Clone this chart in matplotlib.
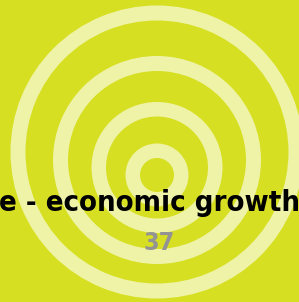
import matplotlib as mpl
mpl.use('Agg')
import matplotlib.pyplot as plt
from matplotlib.patches import Annulus

# ring geometry (pixels, y down)
ring_cx = [157.0, 157.0, 157.0, 157.0]
ring_cy = [175.0, 167.5, 160.0, 152.0]
ring_r_outer = [31.5, 65.5, 104.0, 146.5]
ring_width = [14.5, 14.5, 15.0, 15.0]

title_text = 'e - economic growth'
page_number = '37'

bg_color = '#d7df23'
ring_color = '#eff3a8'

W, H = 299, 302
fig = plt.figure(figsize=(W/100.0, H/100.0), dpi=100)
fig.patch.set_facecolor(bg_color)
ax = fig.add_axes([0, 0, 1, 1])
ax.set_facecolor(bg_color)
ax.set_xlim(0, W)
ax.set_ylim(H, 0)
ax.axis('off')

for cx, cy, r, w in zip(ring_cx, ring_cy, ring_r_outer, ring_width):
    ax.add_patch(Annulus((cx, cy), r, w, facecolor=ring_color,
                         edgecolor='none'))

ax.text(-1, 211, title_text, ha='left', va='baseline',
        fontsize=21, fontweight='bold', fontstretch='condensed',
        color='black', family='DejaVu Sans')
ax.text(159.5, 250, page_number, ha='center', va='baseline',
        fontsize=18, fontweight='bold', fontstretch='condensed',
        color='#939393', family='DejaVu Sans')

plt.savefig('out.png', dpi=100, facecolor=bg_color)
